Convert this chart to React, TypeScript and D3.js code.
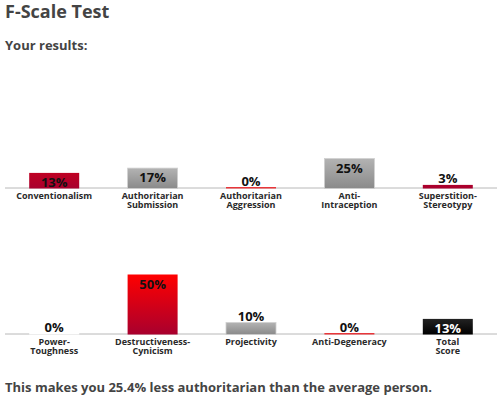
import React from "react";
import * as d3 from "d3";

const row1Categories = ["Conventionalism", "Authoritarian\nSubmission", "Authoritarian\nAggression", "Anti-\nIntraception", "Superstition-\nStereotypy"];
const row1Values = [13, 17, 0, 25, 3];
const row1Kinds = ["red", "gray", "red", "gray", "red"];

const row2Categories = ["Power-\nToughness", "Destructiveness-\nCynicism", "Projectivity", "Anti-Degeneracy", "Total\nScore"];
const row2Values = [0, 50, 10, 0, 13];
const row2Kinds = ["white", "red", "gray", "red", "black"];

const title = "F-Scale Test";
const subtitle = "Your results:";
const footer = "This makes you 25.4% less authoritarian than the average person.";

const W = 501;
const H = 400;
const FONT = "'Open Sans', 'DejaVu Sans', sans-serif";

const x = d3.scaleBand<number>().domain([0, 1, 2, 3, 4]).range([5, 497]).padding(0);
const h = d3.scaleLinear().domain([0, 100]).range([0, 120]);
const BAR_W = 50;
const redTop = d3.interpolateRgb("#a8002e", "#ff0000");

function Row({ cats, vals, kinds, base, id }: { cats: string[]; vals: number[]; kinds: string[]; base: number; id: string }) {
  return (
    <g>
      <defs>
        {vals.map((v, i) => {
          const k = kinds[i];
          let top = "#b3b3b3", bot = "#8a8a8a";
          if (k === "red") { top = redTop(Math.min(1, v / 50)); bot = "#a8002e"; }
          if (k === "black") { top = "#222"; bot = "#000"; }
          if (k === "white") { top = "#fff"; bot = "#fff"; }
          return (
            <linearGradient key={i} id={`${id}-g${i}`} x1="0" y1="0" x2="0" y2="1">
              <stop offset="0" stopColor={top} />
              <stop offset="1" stopColor={bot} />
            </linearGradient>
          );
        })}
      </defs>
      <line x1={5} x2={497} y1={base + 0.5} y2={base + 0.5} stroke="#b8b8b8" strokeWidth={1} />
      {vals.map((v, i) => {
        const k = kinds[i];
        const cx = (x(i) as number) + x.bandwidth() / 2;
        const bh = Math.max(h(v), 1.5);
        const top = base + 1 - bh;
        const inside = bh >= 14;
        const ty = inside ? top + 14 : top - 1.5;
        const fill = v === 0 && k === "red" ? "#e8363a" : `url(#${id}-g${i})`;
        const lines = cats[i].split("\n");
        return (
          <g key={i}>
            <rect x={cx - BAR_W / 2} y={top} width={BAR_W} height={bh} fill={fill}
              stroke={k === "gray" && v > 0 ? "#d0d0d0" : "none"} strokeWidth={0.8} />
            <text x={cx} y={ty} textAnchor="middle" fontFamily={FONT} fontWeight={700} fontSize={13}
              fill={k === "black" ? "#fff" : "#111"}>{`${v}%`}</text>
            {lines.map((l, j) => (
              <text key={j} x={cx} y={base + 11.5 + j * 8.5} textAnchor="middle" fontFamily={FONT}
                fontWeight={700} fontSize={9} fill="#2a2a2a">{l}</text>
            ))}
          </g>
        );
      })}
    </g>
  );
}

export default function App() {
  return (
    <svg width={W} height={H} style={{ position: "absolute", left: 0, top: 0, background: "#fff" }}>
      <rect width={W} height={H} fill="#fff" />
      <text x={5} y={17.5} fontFamily={FONT} fontWeight={700} fontSize={18} fill="#444">{title}</text>
      <text x={5} y={50} fontFamily={FONT} fontWeight={700} fontSize={13} fill="#444">{subtitle}</text>
      <Row cats={row1Categories} vals={row1Values} kinds={row1Kinds} base={187.5} id="r1" />
      <Row cats={row2Categories} vals={row2Values} kinds={row2Kinds} base={333.5} id="r2" />
      <text x={5} y={392.3} fontFamily={FONT} fontWeight={700} fontSize={13} fill="#444">{footer}</text>
    </svg>
  );
}
